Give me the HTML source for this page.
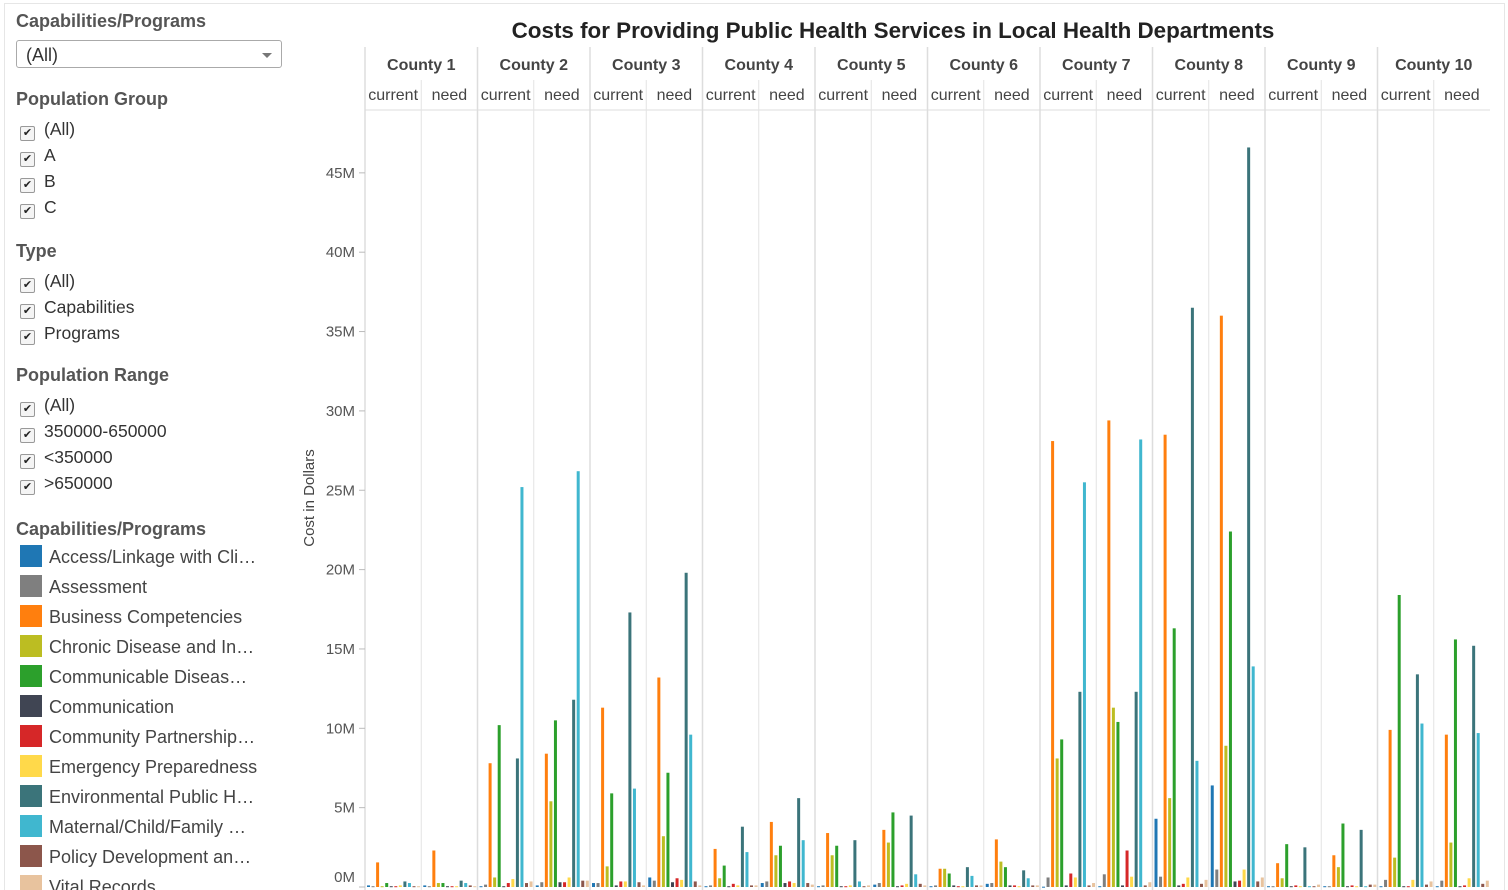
<!DOCTYPE html>
<html style="overflow:hidden;width:1508px;height:890px"><head><meta charset="utf-8"><style>
html,body{margin:0;width:1508px;height:890px;overflow:hidden;}
body{background:#fff;font-family:"Liberation Sans",sans-serif;position:relative;}
#frame{position:absolute;left:4px;top:3px;width:1501px;height:887px;border:1px solid #e6e6e6;border-bottom:none;box-sizing:border-box;}
.panel{position:absolute;left:0;top:0;width:300px;height:890px;color:#333;overflow:hidden;}
.h{position:absolute;left:16px;font-weight:bold;font-size:18px;color:#555;}
.cb{position:absolute;left:20px;font-size:17.5px;color:#333;line-height:20px;}
.cb span.box{display:inline-block;width:13px;height:13px;border:1px solid #999;border-radius:2px;background:#f4f4f4;vertical-align:-1px;margin-right:9px;font-size:11px;line-height:13px;text-align:center;color:#222;}
.lg{position:absolute;left:20px;font-size:18px;color:#444;white-space:nowrap;}
.lg span.sw{display:inline-block;width:22px;height:22px;vertical-align:-4px;margin-right:7px;}
#dd{position:absolute;left:16px;top:40px;width:266px;height:28px;border:1px solid #aaa;border-radius:3px;font-size:18px;line-height:28px;box-sizing:border-box;padding-left:9px;color:#333;}
#dd:after{content:"";position:absolute;right:9px;top:12px;border-left:5px solid transparent;border-right:5px solid transparent;border-top:5px solid #777;}
</style></head><body>
<div id="frame"></div>
<div class="panel">
<div class="h" style="top:11px">Capabilities/Programs</div>
<div id="dd">(All)</div>
<div class="h" style="top:89px">Population Group</div>
<div class="cb" style="top:119px"><span class="box">✔</span>(All)</div>
<div class="cb" style="top:145px"><span class="box">✔</span>A</div>
<div class="cb" style="top:171px"><span class="box">✔</span>B</div>
<div class="cb" style="top:197px"><span class="box">✔</span>C</div>
<div class="h" style="top:241px">Type</div>
<div class="cb" style="top:271px"><span class="box">✔</span>(All)</div>
<div class="cb" style="top:297px"><span class="box">✔</span>Capabilities</div>
<div class="cb" style="top:323px"><span class="box">✔</span>Programs</div>
<div class="h" style="top:365px">Population Range</div>
<div class="cb" style="top:395px"><span class="box">✔</span>(All)</div>
<div class="cb" style="top:421px"><span class="box">✔</span>350000-650000</div>
<div class="cb" style="top:447px"><span class="box">✔</span>&lt;350000</div>
<div class="cb" style="top:473px"><span class="box">✔</span>&gt;650000</div>
<div class="h" style="top:519px">Capabilities/Programs</div>
<div id="legend"></div>
</div>
<svg id="chart" width="1508" height="890" style="position:absolute;left:0;top:0"></svg>
<script>
const categories=["Access/Linkage with Cli…","Assessment","Business Competencies","Chronic Disease and In…","Communicable Diseas…","Communication","Community Partnership…","Emergency Preparedness","Environmental Public H…","Maternal/Child/Family …","Policy Development an…","Vital Records"];
const colors=["#1f77b4","#7f7f7f","#ff7f0e","#bcbd22","#2ca02c","#404553","#d62728","#ffd94a","#3b747a","#40b7cf","#8c564b","#e8c39e"];
const counties=["County 1","County 2","County 3","County 4","County 5","County 6","County 7","County 8","County 9","County 10"];
const measures=["current","need"];
const yTicks=[0,5,10,15,20,25,30,35,40,45];
// values in millions, order: county1 current, county1 need, county2 current, ...
const c1cur=[0.1,0.05,1.55,0.05,0.25,0.05,0.05,0.1,0.35,0.25,0.05,0.05];
const c1need=[0.1,0.05,2.3,0.25,0.25,0.05,0.05,0.05,0.4,0.25,0.1,0.05];
const c2cur=[0.05,0.15,7.8,0.6,10.2,0.05,0.25,0.5,8.1,25.2,0.25,0.35];
const c2need=[0.1,0.3,8.4,5.4,10.5,0.3,0.3,0.6,11.8,26.2,0.4,0.4];
const c3cur=[0.25,0.25,11.3,1.3,5.9,0.1,0.35,0.35,17.3,6.2,0.3,0.1];
const c3need=[0.6,0.4,13.2,3.2,7.2,0.3,0.55,0.45,19.8,9.6,0.35,0.1];
const c4cur=[0.05,0.1,2.4,0.55,1.35,0.05,0.2,0.1,3.8,2.2,0.1,0.1];
const c4need=[0.25,0.35,4.1,2.0,2.6,0.25,0.35,0.25,5.6,2.95,0.25,0.15];
const c5cur=[0.05,0.1,3.4,2.0,2.6,0.05,0.05,0.1,2.95,0.35,0.05,0.1];
const c5need=[0.15,0.25,3.6,2.8,4.7,0.05,0.1,0.2,4.5,0.8,0.2,0.1];
const c6cur=[0.05,0.1,1.15,1.15,0.85,0.1,0.05,0.05,1.25,0.7,0.1,0.1];
const c6need=[0.2,0.25,3.0,1.6,1.25,0.1,0.1,0.05,1.05,0.55,0.1,0.1];
const c7cur=[0.02,0.6,28.1,8.1,9.3,0.1,0.85,0.6,12.3,25.5,0.1,0.25];
const c7need=[0.05,0.8,29.4,11.3,10.4,0.1,2.3,0.65,12.3,28.2,0.1,0.3];
const c8cur=[4.3,0.65,28.5,5.6,16.3,0.1,0.2,0.6,36.5,7.95,0.2,0.45];
const c8need=[6.4,1.1,36.0,8.9,22.4,0.35,0.4,1.1,46.6,13.9,0.35,0.6];
const c9cur=[0.05,0.05,1.5,0.55,2.7,0.05,0.1,0.05,2.5,0.05,0.05,0.15];
const c9need=[0.05,0.05,2.0,1.25,4.0,0.05,0.1,0.05,3.6,0.05,0.15,0.15];
const c10cur=[0.05,0.45,9.9,1.85,18.4,0.05,0.05,0.45,13.4,10.3,0.15,0.35];
const c10need=[0.05,0.4,9.6,2.8,15.6,0.05,0.1,0.55,15.2,9.7,0.2,0.4];
const series=[c1cur,c1need,c2cur,c2need,c3cur,c3need,c4cur,c4need,c5cur,c5need,c6cur,c6need,c7cur,c7need,c8cur,c8need,c9cur,c9need,c10cur,c10need];

const NS="http://www.w3.org/2000/svg";
const svg=document.getElementById('chart');
const X0=365,X1=1490,Y0=887,PXM=15.87;
const colW=(X1-X0)/counties.length, subW=colW/2, slot=4.55;
function yScale(v){return Y0-v*PXM;}
function xBar(sub,cat){return X0+sub*subW+2+cat*slot;}
function mk(tag,attrs){const e=document.createElementNS(NS,tag);for(const k in attrs)e.setAttribute(k,attrs[k]);svg.appendChild(e);return e;}
let t=mk('text',{x:893,y:38,'text-anchor':'middle','font-size':'22.4','font-weight':'bold',fill:'#222'});
t.textContent="Costs for Providing Public Health Services in Local Health Departments";


let l=mk('line',{x1:X0,x2:X0,y1:47,y2:890,stroke:'#ddd','stroke-width':1.5});


l=mk('line',{x1:X0,x2:X1,y1:110,y2:110,stroke:'#ddd','stroke-width':1});


counties.forEach((c,i)=>{
  const cx=X0+i*colW;
  if(i>0){const d=mk('line',{x1:cx,x2:cx,y1:47,y2:890,stroke:'#ddd','stroke-width':1.5});
    
    }
  const s=mk('line',{x1:cx+subW,x2:cx+subW,y1:80,y2:890,stroke:'#e4e4e4','stroke-width':1});
  
  
  const ct=mk('text',{x:cx+colW/2,y:70,'text-anchor':'middle','font-size':'16','font-weight':'bold',fill:'#444'});
  ct.textContent=c;
  
  
  measures.forEach((m,j)=>{
    const mt=mk('text',{x:cx+j*subW+subW/2,y:100,'text-anchor':'middle','font-size':'16',fill:'#444'});
    mt.textContent=m;
    
    
  });
});
yTicks.forEach(v=>{
  const y=yScale(v);
  const tk=mk('line',{x1:X0-6,x2:X0,y1:y,y2:y,stroke:'#bbb'});
  
  
  const lb=mk('text',{x:X0-10,y:Math.min(y+5,882),'text-anchor':'end','font-size':'15',fill:'#555'});
  lb.textContent=v+'M';
  
  
});
const yt=mk('text',{x:0,y:0,transform:'translate(314,498) rotate(-90)','text-anchor':'middle','font-size':'15',fill:'#444'});
yt.textContent="Cost in Dollars";


series.forEach((vals,s)=>{
  vals.forEach((v,c)=>{
    const y=yScale(v);
    const b=mk('rect',{x:xBar(s,c),y:y,width:3,height:Math.max(Y0-y,1),fill:colors[c]});
    
    
  });
});
const lg=document.getElementById('legend');
categories.forEach((c,i)=>{
  const d=document.createElement('div');
  d.className='lg';
  d.style.top=(546+i*30-1)+'px';
  d.innerHTML='<span class="sw" style="background:'+colors[i]+'"></span>'+c;
  
  
  lg.appendChild(d);
});
</script>
</body></html>
